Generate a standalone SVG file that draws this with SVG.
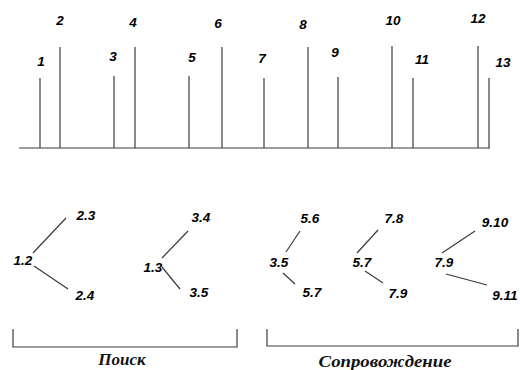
<svg xmlns="http://www.w3.org/2000/svg" width="520" height="370" viewBox="0 0 520 370">
<style>
.ln{stroke:#3a3a3a;stroke-width:1.2;fill:none}
.lb{font-family:"Liberation Sans",Arial,sans-serif;font-size:13.5px;font-style:italic;font-weight:bold;fill:#000;text-anchor:middle}
.cap{font-family:"Liberation Serif","Times New Roman",serif;font-size:17px;font-style:italic;font-weight:bold;fill:#111;text-anchor:middle}
</style>
<rect width="520" height="370" fill="#fff"/>
<g id="connectors">
<line class="ln" x1="19" y1="148" x2="490" y2="148"/>
<line class="ln" x1="40" y1="78" x2="40" y2="148"/>
<line class="ln" x1="60" y1="47" x2="60" y2="148"/>
<line class="ln" x1="114" y1="76" x2="114" y2="148"/>
<line class="ln" x1="135" y1="47" x2="135" y2="148"/>
<line class="ln" x1="189" y1="76" x2="189" y2="148"/>
<line class="ln" x1="222" y1="47" x2="222" y2="148"/>
<line class="ln" x1="264" y1="78" x2="264" y2="148"/>
<line class="ln" x1="308" y1="47" x2="308" y2="148"/>
<line class="ln" x1="338" y1="77" x2="338" y2="148"/>
<line class="ln" x1="392" y1="46" x2="392" y2="148"/>
<line class="ln" x1="413" y1="78" x2="413" y2="148"/>
<line class="ln" x1="478" y1="46" x2="478" y2="148"/>
<line class="ln" x1="489" y1="78" x2="489" y2="148"/>
<line class="ln" x1="33" y1="253" x2="66" y2="218"/>
<line class="ln" x1="34" y1="266" x2="68" y2="289"/>
<line class="ln" x1="162" y1="258" x2="188" y2="231"/>
<line class="ln" x1="162" y1="267" x2="180" y2="289"/>
<line class="ln" x1="286" y1="252" x2="300" y2="231"/>
<line class="ln" x1="283" y1="273" x2="295" y2="284"/>
<line class="ln" x1="357" y1="253" x2="378" y2="230"/>
<line class="ln" x1="365" y1="271" x2="383" y2="283"/>
<line class="ln" x1="442" y1="253" x2="475" y2="231"/>
<line class="ln" x1="446" y1="274" x2="487" y2="285"/>
<polyline class="ln" points="13,329 13,347 237,347 237,329"/>
<polyline class="ln" points="267,329 267,346 518,346 518,329"/>
</g>
<g id="top-labels">
<text class="lb" x="41" y="66">1</text>
<text class="lb" x="60" y="25">2</text>
<text class="lb" x="113" y="61">3</text>
<text class="lb" x="133" y="27">4</text>
<text class="lb" x="192" y="62">5</text>
<text class="lb" x="218" y="28">6</text>
<text class="lb" x="262" y="63">7</text>
<text class="lb" x="303" y="29">8</text>
<text class="lb" x="335" y="57">9</text>
<text class="lb" x="393" y="25">10</text>
<text class="lb" x="422" y="64">11</text>
<text class="lb" x="478" y="23">12</text>
<text class="lb" x="503" y="67">13</text>
</g>
<g id="tree1">
<text class="lb" x="23" y="265">1.2</text>
<text class="lb" x="86" y="220">2.3</text>
<text class="lb" x="85" y="300">2.4</text>
</g>
<g id="tree2">
<text class="lb" x="153" y="272">1.3</text>
<text class="lb" x="201" y="222">3.4</text>
<text class="lb" x="199" y="297">3.5</text>
</g>
<g id="tree3">
<text class="lb" x="279" y="267">3.5</text>
<text class="lb" x="310" y="223">5.6</text>
<text class="lb" x="312" y="297">5.7</text>
</g>
<g id="tree4">
<text class="lb" x="362" y="267">5.7</text>
<text class="lb" x="394" y="223">7.8</text>
<text class="lb" x="398" y="298">7.9</text>
</g>
<g id="tree5">
<text class="lb" x="444" y="267">7.9</text>
<text class="lb" x="495" y="227">9.10</text>
<text class="lb" x="505" y="300">9.11</text>
</g>
<g id="group-search">
<text class="cap" x="122" y="365">Поиск</text>
</g>
<g id="group-tracking">
<text class="cap" x="385" y="367" textLength="133" lengthAdjust="spacingAndGlyphs">Сопровождение</text>
</g>
</svg>
